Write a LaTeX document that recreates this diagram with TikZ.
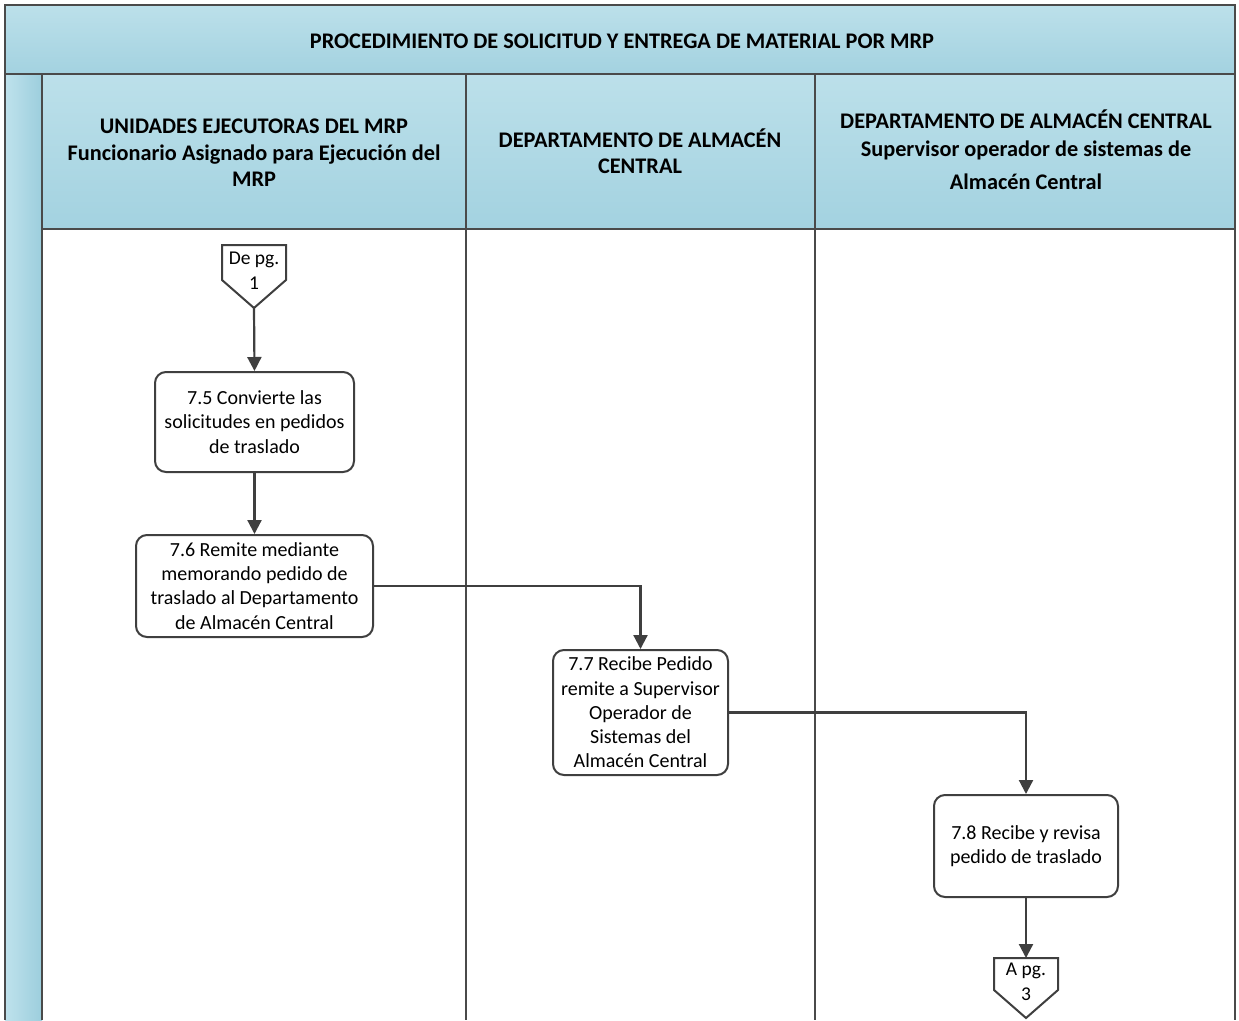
\documentclass[tikz,border=0pt]{standalone}
\usepackage{fontspec}
\setmainfont{Carlito}
\usetikzlibrary{arrows.meta,calc}
\definecolor{hdrtop}{HTML}{BCE0EA}
\definecolor{hdrbot}{HTML}{A3D2E0}
\definecolor{stripL}{HTML}{BFE2EC}
\definecolor{stripR}{HTML}{9CCEDD}
\definecolor{framec}{HTML}{4A4A4A}
\definecolor{linec}{HTML}{3F3F3F}
\begin{document}
\begin{tikzpicture}[x=1pt,y=-1pt,
  frame/.style={draw=framec,line width=2pt},
  stepbox/.style={draw=linec,line width=2pt,fill=white,rounded corners=11pt,align=center,inner sep=0pt,
    font=\fontsize{20}{24.2}\selectfont},
  hdrtext/.style={align=center,font=\fontsize{22.3}{26.5}\selectfont\bfseries,inner sep=0pt},
  pagetext/.style={align=center,font=\fontsize{19.5}{25}\selectfont,inner sep=0pt},
  arr/.style={draw=linec,line width=2.2pt,-{Triangle[length=14pt,width=14pt]}},
  conn/.style={draw=linec,line width=2pt,fill=white,line join=miter}]
\useasboundingbox (0,0) rectangle (1239,1020);
\fill[white] (0,0) rectangle (1239,1020);
% bands
\shade[top color=hdrtop,bottom color=hdrbot] (5,5) rectangle (1235,74);
\shade[top color=hdrtop,bottom color=hdrbot] (42,74) rectangle (1235,229);
\shade[left color=stripL,right color=stripR] (5,74) rectangle (42,1020);
% frame lines
\draw[frame] (5,1020) -- (5,5) -- (1235,5) -- (1235,1020);
\draw[frame] (5,74) -- (1235,74);
\draw[frame] (42,74) -- (42,1020);
\draw[frame] (42,229) -- (1235,229);
\draw[frame] (466,74) -- (466,1020);
\draw[frame] (815,74) -- (815,1020);
% titles
\node[hdrtext] (title) at (622,41) {PROCEDIMIENTO DE SOLICITUD Y ENTREGA DE MATERIAL POR MRP};
\node[hdrtext] (h1) at (254,153) {UNIDADES EJECUTORAS DEL MRP\\Funcionario Asignado para Ejecución del\\MRP};
\node[hdrtext] (h2) at (640,151) {DEPARTAMENTO DE ALMACÉN\\CENTRAL};
\node[hdrtext,font=\fontsize{22.3}{28}\selectfont\bfseries] (h3) at (1026,150) {DEPARTAMENTO DE ALMACÉN CENTRAL\\Supervisor operador de sistemas de\\[5pt]Almacén Central};
% off-page connector in
\draw[conn] (222,245) -- (286,245) -- (286,280) -- (254,308) -- (222,280) -- cycle;
\node[pagetext] (de1) at (254,271) {De pg.\\1};
\coordinate (de1tip) at (254,308);
% boxes
\node[stepbox,minimum width=199pt,minimum height=100pt] (b75) at (254.5,422) {7.5 Convierte las\\solicitudes en pedidos\\de traslado};
\node[stepbox,minimum width=237pt,minimum height=102pt] (b76) at (254.5,586) {7.6 Remite mediante\\memorando pedido de\\traslado al Departamento\\de Almacén Central};
\node[stepbox,minimum width=175pt,minimum height=125pt] (b77) at (640.5,712.5) {7.7 Recibe Pedido\\remite a Supervisor\\Operador de\\Sistemas del\\Almacén Central};
\node[stepbox,minimum width=184pt,minimum height=102pt] (b78) at (1026,846) {7.8 Recibe y revisa\\pedido de traslado};
% off-page connector out
\draw[conn] (994,958) -- (1058,958) -- (1058,990) -- (1026,1018) -- (994,990) -- cycle;
\node[pagetext] (apg3) at (1026,982) {A pg.\\3};
\coordinate (apg3top) at (1026,958);
% connectors
\draw[arr] (de1tip) -- (b75.north);
\draw[arr] (b75.south) -- (b76.north);
\draw[arr] (b76.east) -| (b77.north);
\draw[arr] (b77.east) -| (b78.north);
\draw[arr] (b78.south) -- (apg3top);
\end{tikzpicture}
\end{document}
